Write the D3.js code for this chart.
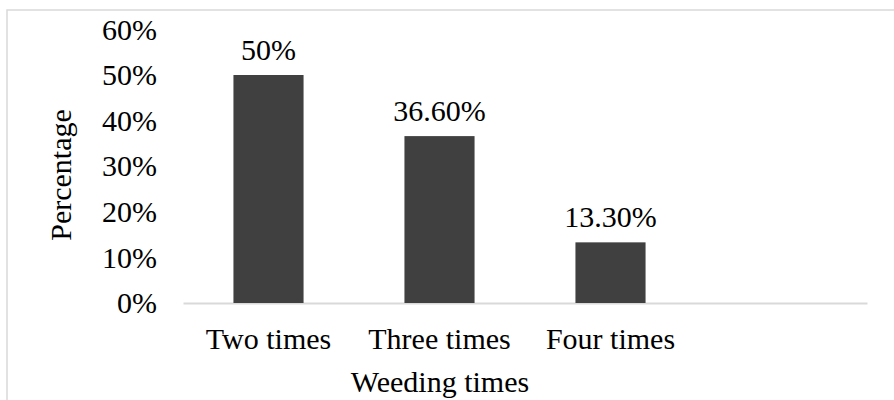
<!DOCTYPE html>
<html>
<head>
<meta charset="utf-8">
<script src="https://cdn.jsdelivr.net/npm/d3@7"></script>
<style>
  body { margin: 0; background: #fff; }
  text { font-family: "Liberation Serif", "Times New Roman", serif; fill: #000; }
</style>
</head>
<body>
<div id="chart"></div>
<script>
var categories = ["Two times", "Three times", "Four times", ""];
var values = [50, 36.6, 13.3];
var valueLabels = ["50%", "36.60%", "13.30%"];
var yTicks = [0, 10, 20, 30, 40, 50, 60];

var width = 894, height = 400;
var fontSize = 30;

var svg = d3.select("#chart")
    .append("svg")
    .attr("width", width)
    .attr("height", height);

// outer frame
svg.append("rect")
    .attr("x", 7)
    .attr("y", 10)
    .attr("width", width)
    .attr("height", height)
    .attr("fill", "#fff")
    .attr("stroke", "#d9d9d9")
    .attr("stroke-width", 1.5);

var x = d3.scaleBand()
    .domain(categories)
    .range([183, 867])
    .paddingInner(0.59)
    .paddingOuter(0.295);

var y = d3.scaleLinear()
    .domain([0, 60])
    .range([303, 29.4]);

// y axis labels
var yAxis = svg.append("g")
    .attr("transform", "translate(183,0)")
    .call(d3.axisLeft(y).tickValues(yTicks).tickSize(0).tickPadding(26)
        .tickFormat((d) => d + "%"));
yAxis.select(".domain").remove();
yAxis.selectAll("text")
    .style("font-size", fontSize + "px")
    .attr("fill", "#000");

// x axis
var xAxis = svg.append("g")
    .attr("transform", "translate(0,303)")
    .call(d3.axisBottom(x).tickSize(0).tickPadding(25));
xAxis.select(".domain")
    .attr("stroke", "#d9d9d9")
    .attr("stroke-width", 2);
xAxis.selectAll("text")
    .style("font-size", fontSize + "px")
    .attr("fill", "#000");

// bars
svg.append("g")
    .selectAll("rect")
    .data(values)
    .enter().append("rect")
    .attr("x", (d, i) => x(categories[i]))
    .attr("y", (d) => y(d))
    .attr("width", x.bandwidth())
    .attr("height", (d) => y(0) - y(d))
    .attr("fill", "#404040");

// value labels
svg.append("g")
    .selectAll("text")
    .data(values)
    .enter().append("text")
    .attr("x", (d, i) => x(categories[i]) + x.bandwidth() / 2)
    .attr("y", (d) => y(d) - 15)
    .attr("text-anchor", "middle")
    .style("font-size", fontSize + "px")
    .text((d, i) => valueLabels[i]);

// axis titles
svg.append("text")
    .attr("transform", "translate(71,175) rotate(-90)")
    .attr("text-anchor", "middle")
    .style("font-size", fontSize + "px")
    .text("Percentage");

svg.append("text")
    .attr("x", 440)
    .attr("y", 392)
    .attr("text-anchor", "middle")
    .style("font-size", fontSize + "px")
    .text("Weeding times");
</script>
</body>
</html>
